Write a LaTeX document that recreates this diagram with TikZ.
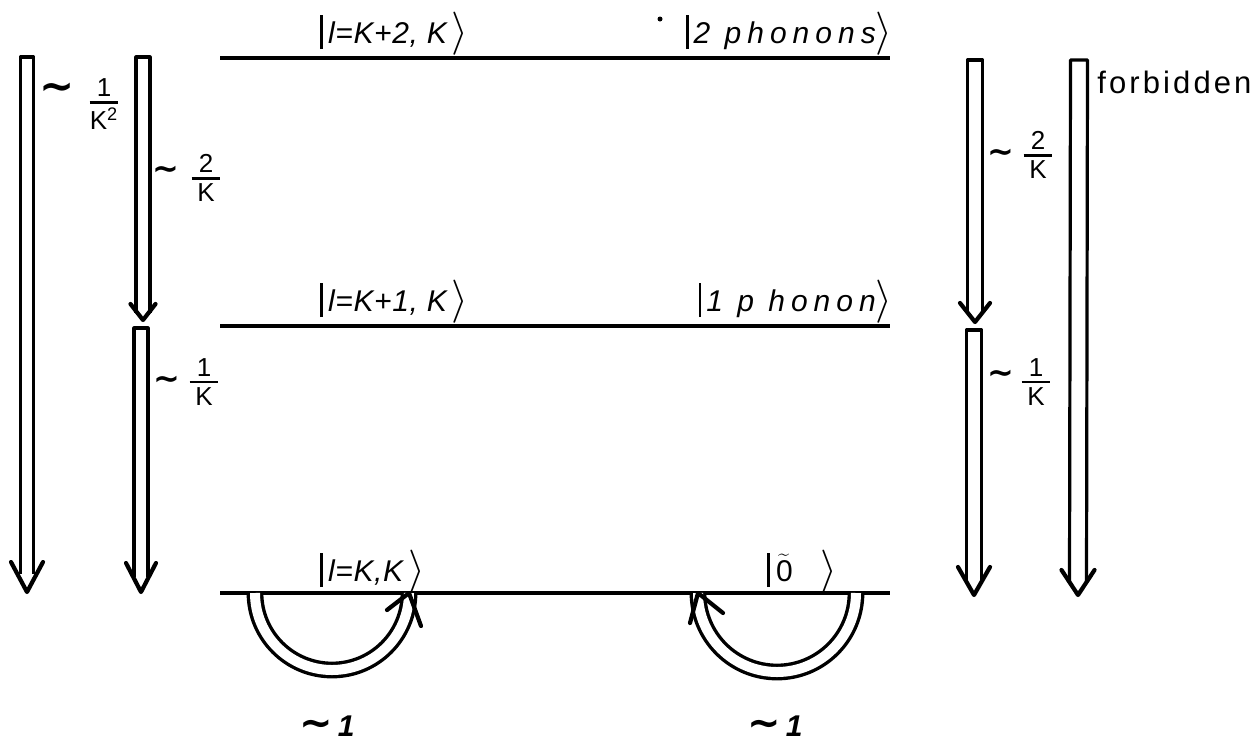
\documentclass[tikz,border=0pt]{standalone}
\usepackage{fontspec}
\setmainfont{Liberation Sans}
\newfontfamily\spaced[LetterSpace=20]{Liberation Sans}
\newfontfamily\lightspaced[LetterSpace=2]{Liberation Sans}
\newfontfamily\forbfont[LetterSpace=10]{Liberation Sans}
\newfontfamily\symfont{DejaVu Sans}
\usetikzlibrary{calc}

\newcommand\hollowarrow[5]{%
  \draw[shaft] ($(#2)+(-#3,{-#5*(#4-#3)/#4})$) -- ($(#1)+(-#3,0)$) -- ($(#1)+(#3,0)$) -- ($(#2)+(#3,{-#5*(#4-#3)/#4})$);
  \draw[head] ($(#2)+(-#4,-#5)$) -- (#2) -- ($(#2)+(#4,-#5)$);
}
\newcommand\rfrac[2]{\vbox{\offinterlineskip\hbox to 1.1em{\hss #1\hss}\kern2pt\hrule height 1.4pt\kern2pt\hbox to 1.1em{\hss #2\hss}}}
\newcommand\tl{{\symfont\bfseries ∼}}
\newcommand\kbar{\rule[-3pt]{1.4pt}{17pt}}
\newcommand\kang{\raisebox{-0.5pt}{\scalebox{1.5}{$\rangle$}}}

\begin{document}
\begin{tikzpicture}[x=0.5pt,y=-0.5pt,
  level/.style={line width=2pt},
  shaft/.style={line width=1.6pt, line join=round},
  head/.style={line width=2.1pt, line cap=round, line join=round},
  loopline/.style={line width=1.7pt, double distance=5pt},
  lab/.style={font=\fontsize{15}{17}\selectfont\itshape, inner sep=0pt},
  rate/.style={font=\fontsize{13}{15}\selectfont, inner sep=0pt},
  tild/.style={font=\fontsize{16}{18}\selectfont, inner sep=0pt},
  bigtild/.style={font=\fontsize{21}{23}\selectfont, inner sep=0pt},
  one/.style={font=\fontsize{15}{17}\selectfont\bfseries\itshape, inner sep=0pt}]
\useasboundingbox (0,0) rectangle (1258,746);

% levels
\coordinate (L2a) at (220,58);  \coordinate (L2b) at (890,58);
\coordinate (L1a) at (220,326); \coordinate (L1b) at (890,326);
\coordinate (L0a) at (220,593); \coordinate (L0b) at (890,593);
\draw[level] (L2a) -- (L2b);
\draw[level] (L1a) -- (L1b);
\draw[level] (L0a) -- (L0b);

% level labels
\node[lab, anchor=base west] (t2) at (320,43) {\kbar\,\lightspaced\itshape l=K+2, K\,\kang};
\node[lab, anchor=base east] (t2r) at (893,43) {\kbar\,\spaced\itshape 2 phonons\kang};
\node[lab, anchor=base west] (t1) at (320,311) {\kbar\,\lightspaced\itshape l=K+1, K\,\kang};
\node[lab, anchor=base east] (t1r) at (893,311) {\kbar\,\spaced\itshape 1 p honon\kang};
\node[lab, anchor=base west] (t0) at (320,581) {\kbar\,\lightspaced\itshape l=K,K\,\kang};
\node[lab, anchor=base west] (t0r) at (767,581) {\kbar\hspace{3pt}\upshape$\widetilde{\hbox{0}}$\hspace{14pt}\kang};
\fill (660,19) circle (2.5);

% arrows left
\coordinate (Atop) at (27,57);   \coordinate (Atip) at (27,592);
\coordinate (B1top) at (143,57); \coordinate (B1tip) at (143,320);
\coordinate (B2top) at (141,328);\coordinate (B2tip) at (141,592);
\hollowarrow{Atop}{Atip}{6.5}{16}{30}
\hollowarrow{B1top}{B1tip}{7}{12.5}{16}
\hollowarrow{B2top}{B2tip}{7}{15}{29}

% arrows right
\coordinate (C1top) at (975,60); \coordinate (C1tip) at (975,322);
\coordinate (C2top) at (974,330);\coordinate (C2tip) at (974,595);
\coordinate (Dtop) at (1079,60); \coordinate (Dtip) at (1078,595);
\hollowarrow{C1top}{C1tip}{7.5}{15}{19}
\hollowarrow{C2top}{C2tip}{7.5}{16}{28}
\hollowarrow{Dtop}{Dtip}{8.5}{16.5}{25}

% rate labels
\node[bigtild] (sA) at (57,92) {\tl};
\node[rate] (fA) at (104,104) {\rfrac{1}{K\textsuperscript{2}}};
\node[tild] (sB1) at (166,173) {\tl};
\node[rate] (fB1) at (206,178) {\rfrac{2}{K}};
\node[tild] (sB2) at (167,383) {\tl};
\node[rate] (fB2) at (204,382) {\rfrac{1}{K}};
\node[tild] (sC1) at (1001,156) {\tl};
\node[rate] (fC1) at (1038,155) {\rfrac{2}{K}};
\node[tild] (sC2) at (1001,377) {\tl};
\node[rate] (fC2) at (1036,382) {\rfrac{1}{K}};
\node[inner sep=0pt, anchor=base west, font=\fontsize{15.5}{17}\selectfont\forbfont] (forb) at (1097,93) {forbidden};

% loops
\coordinate (lpL) at (255,593);
\coordinate (lpLtip) at (409,593);
\draw[loopline] (lpL) arc[start angle=180, end angle=0, radius=77];
\draw[head] ($(lpLtip)+(-22,17)$) -- (lpLtip) -- ($(lpLtip)+(12,33)$);
\coordinate (lpR) at (856,593);
\coordinate (lpRtip) at (698,593);
\draw[loopline] (lpR) arc[start angle=0, end angle=180, radius=79];
\draw[head] ($(lpRtip)+(-8,30)$) -- (lpRtip) -- ($(lpRtip)+(25,20)$);
\node[one] (oL) at (327,726) {{\fontsize{20}{22}\selectfont\tl}\,1};
\node[one] (oR) at (775,726) {{\fontsize{20}{22}\selectfont\tl}\,1};
\end{tikzpicture}
\end{document}
